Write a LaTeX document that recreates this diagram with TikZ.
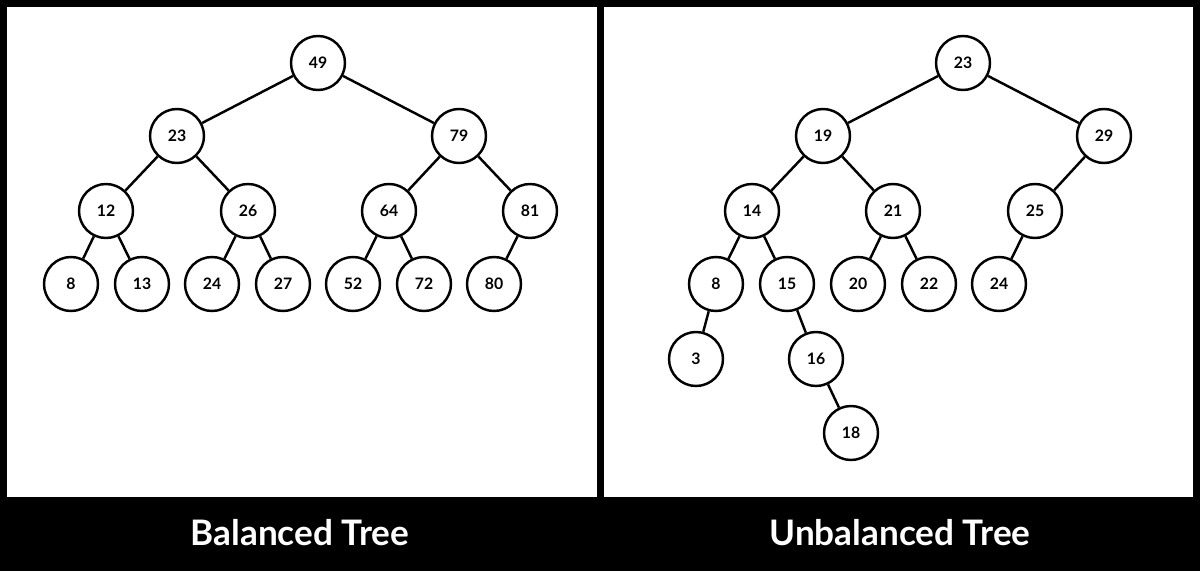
\documentclass[tikz,border=0pt]{standalone}
\usepackage{fontspec}
\setmainfont{Lato}
\begin{document}
\begin{tikzpicture} [x=0.02cm, y=-0.02cm, line width = 1.4pt,
    key/.style = {draw, circle, fill=white, minimum size=1.08cm, inner sep=0pt, font=\fontsize{9}{10}\selectfont\bfseries},
    caption/.style = {text=white, font=\fontsize{20}{24}\selectfont\bfseries}]
        \fill [black] (0,0) rectangle (1200,571);
        \useasboundingbox (0,0) rectangle (1200,571);
        \fill [white] (7,7) rectangle (597,497);
        \fill [white] (604,7) rectangle (1193,497);

        % balanced
        \node [key] (b49) at (318,63) {49};
        \node [key] (b23) at (177,136) {23};
        \node [key] (b79) at (459,136) {79};
        \node [key] (b12) at (106,211) {12};
        \node [key] (b26) at (248,211) {26};
        \node [key] (b64) at (389,211) {64};
        \node [key] (b81) at (530,211) {81};
        \node [key] (b8) at (71,284) {8};
        \node [key] (b13) at (142,284) {13};
        \node [key] (b24) at (212,284) {24};
        \node [key] (b27) at (283,284) {27};
        \node [key] (b52) at (353,284) {52};
        \node [key] (b72) at (424,284) {72};
        \node [key] (b80) at (494,284) {80};

        \foreach \a/\b in {49/23, 49/79, 23/12, 23/26, 79/64, 79/81, 12/8, 12/13, 26/24, 26/27, 64/52, 64/72, 81/80}
            \draw (b\a) -- (b\b);

        % unbalanced
        \node [key] (u23) at (963,63) {23};
        \node [key] (u19) at (823,136) {19};
        \node [key] (u29) at (1104,136) {29};
        \node [key] (u14) at (752,211) {14};
        \node [key] (u21) at (893,211) {21};
        \node [key] (u25) at (1035,211) {25};
        \node [key] (u8) at (716,284) {8};
        \node [key] (u15) at (787,284) {15};
        \node [key] (u20) at (858,284) {20};
        \node [key] (u22) at (929,284) {22};
        \node [key] (u24) at (999,284) {24};
        \node [key] (u3) at (696,359) {3};
        \node [key] (u16) at (816,359) {16};
        \node [key] (u18) at (851,433) {18};

        \foreach \a/\b in {23/19, 23/29, 19/14, 19/21, 29/25, 14/8, 14/15, 21/20, 21/22, 25/24, 8/3, 15/16, 16/18}
            \draw (u\a) -- (u\b);

        \node [caption] (left) at (300,533) {Balanced Tree};
        \node [caption] (right) at (900,533) {Unbalanced Tree};
\end{tikzpicture}
\end{document}
